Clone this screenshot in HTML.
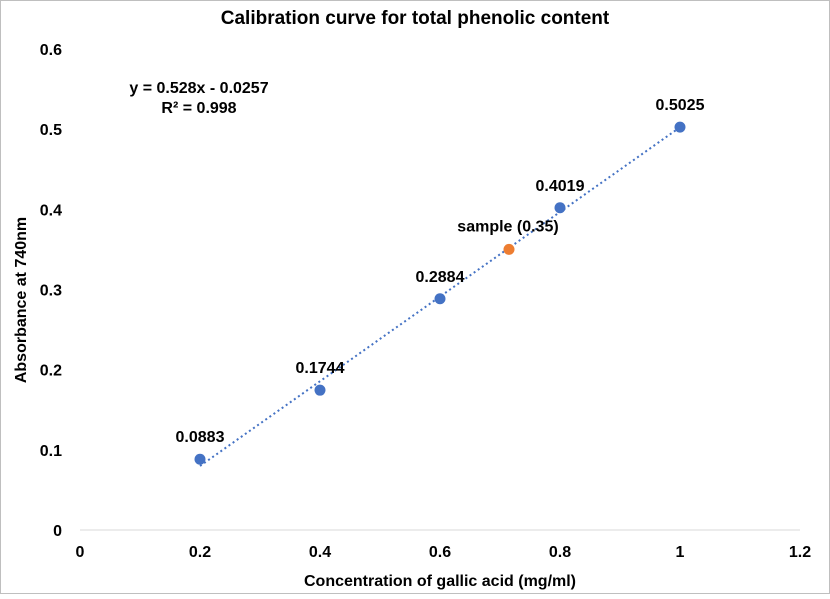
<!DOCTYPE html>
<html><head><meta charset="utf-8"><style>
body{margin:0;background:#fff}
svg text{font-family:"Liberation Sans",Arial,sans-serif;font-weight:bold;fill:#000}
</style></head><body>
<svg width="830" height="594" viewBox="0 0 830 594" xmlns="http://www.w3.org/2000/svg">
<rect x="0.5" y="0.5" width="829" height="593" fill="#fff" stroke="#bfbfbf"/>
<text x="415" y="24" text-anchor="middle" font-size="19">Calibration curve for total phenolic content</text>
<text x="440" y="586" text-anchor="middle" font-size="16">Concentration of gallic acid (mg/ml)</text>
<text transform="translate(26,300) rotate(-90)" text-anchor="middle" font-size="16">Absorbance at 740nm</text>
<text x="199" y="93" text-anchor="middle" font-size="16">y = 0.528x - 0.0257</text>
<text x="199" y="113" text-anchor="middle" font-size="16">R² = 0.998</text>
<g id="g"></g>
</svg>
<script>
const xVals=[0.2,0.4,0.6,0.8,1.0];
const yVals=[0.0883,0.1744,0.2884,0.4019,0.5025];
const pointLabels=["0.0883","0.1744","0.2884","0.4019","0.5025"];
const sampleX=[0.715];
const sampleY=[0.35];
const xTicks=[0,0.2,0.4,0.6,0.8,1,1.2];
const yTicks=[0,0.1,0.2,0.3,0.4,0.5,0.6];
const slope=0.528, intercept=-0.0257;
const X=v=>80+v*600, Y=v=>530-v*801.7;
const g=document.getElementById('g'),NS="http://www.w3.org/2000/svg";
function mk(t,a){const e=document.createElementNS(NS,t);for(const k in a)e.setAttribute(k,a[k]);g.appendChild(e);return e;}
const ax=mk('line',{x1:X(0),x2:X(1.2),y1:Y(0),y2:Y(0),stroke:'#d9d9d9'});


xTicks.forEach(t=>{const e=mk('text',{x:X(t),y:Y(0)+27,'text-anchor':'middle','font-size':16});e.textContent=String(t);

});
yTicks.forEach(t=>{const e=mk('text',{x:62,y:Y(t)+6,'text-anchor':'end','font-size':16});e.textContent=String(t);

});
const x0=xVals[0],x1=xVals[xVals.length-1];
const tl=mk('line',{x1:X(x0),y1:Y(slope*x0+intercept),x2:X(x1),y2:Y(slope*x1+intercept),stroke:'#4472c4','stroke-width':2,'stroke-dasharray':'2 3'});


xVals.forEach((x,i)=>{const c=mk('circle',{cx:X(x),cy:Y(yVals[i]),r:5.5,fill:'#4472c4'});


const t=mk('text',{x:X(x),y:Y(yVals[i])-17,'text-anchor':'middle','font-size':16});t.textContent=pointLabels[i];

});
sampleX.forEach((x,i)=>{const c=mk('circle',{cx:X(x),cy:Y(sampleY[i]),r:5.5,fill:'#ed7d31'});


const t=mk('text',{x:X(x)-1,y:Y(sampleY[i])-18,'text-anchor':'middle','font-size':16});t.textContent='sample (0.35)';

});
</script>
</body></html>
